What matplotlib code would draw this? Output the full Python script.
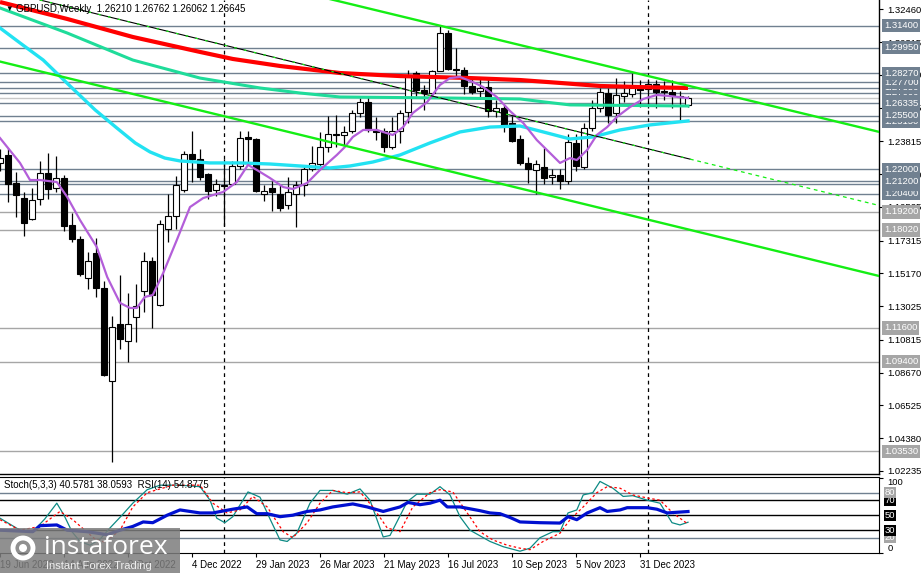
import numpy as np
import matplotlib.pyplot as plt
from matplotlib.patches import Rectangle, Circle
from matplotlib.transforms import blended_transform_factory, IdentityTransform

plt.rcParams.update({
    "font.family": ["Liberation Sans", "DejaVu Sans"],
    "font.size": 7,
})

# weekly GBPUSD candles, week 0 = 19 Jun 2022
opens = [1.2238, 1.2290, 1.2107, 1.2009, 1.1871, 1.2002, 1.2173, 1.2074, 1.2140, 1.1832,
         1.1740, 1.1485, 1.1649, 1.1420, 1.0810, 1.1184, 1.1073, 1.1230, 1.1400, 1.1596,
         1.1308, 1.1806, 1.1891, 1.2061, 1.2297, 1.2264, 1.2166, 1.2061, 1.2088, 1.2101,
         1.2218, 1.2408, 1.2395, 1.2035, 1.2074, 1.2035, 1.1963, 1.2035, 1.2094, 1.2199,
         1.2231, 1.2343, 1.2428, 1.2421, 1.2447, 1.2570, 1.2637, 1.2455, 1.2450, 1.2345,
         1.2450, 1.2575, 1.2830, 1.2720, 1.2700, 1.2840, 1.3090, 1.2855, 1.2850, 1.2745,
         1.2710, 1.2740, 1.2580, 1.2600, 1.2500, 1.2400, 1.2240, 1.2195, 1.2215, 1.2150,
         1.2162, 1.2125, 1.2372, 1.2215, 1.2470, 1.2600, 1.2700, 1.2568, 1.2680, 1.2693,
         1.2732, 1.2725, 1.2758, 1.2706, 1.2706, 1.2680, 1.2621]
highs = [1.2330, 1.2336, 1.2179, 1.2048, 1.2074, 1.2251, 1.2303, 1.2284, 1.2160, 1.1911,
         1.1760, 1.1656, 1.1747, 1.1466, 1.1236, 1.1505, 1.1387, 1.1446, 1.1656, 1.1623,
         1.1865, 1.2035, 1.2153, 1.2316, 1.2447, 1.2330, 1.2172, 1.2133, 1.2264, 1.2251,
         1.2447, 1.2447, 1.2402, 1.2094, 1.2120, 1.2094, 1.2146, 1.2120, 1.2218, 1.2349,
         1.2441, 1.2546, 1.2552, 1.2480, 1.2585, 1.2668, 1.2680, 1.2545, 1.2470, 1.2545,
         1.2585, 1.2850, 1.2845, 1.2750, 1.2850, 1.3144, 1.3110, 1.2997, 1.2870, 1.2800,
         1.2790, 1.2790, 1.2650, 1.2620, 1.2550, 1.2425, 1.2280, 1.2260, 1.2340, 1.2200,
         1.2200, 1.2430, 1.2430, 1.2500, 1.2655, 1.2733, 1.2733, 1.2795, 1.2780, 1.2828,
         1.2785, 1.2790, 1.2785, 1.2775, 1.2785, 1.2710, 1.26762]
lows = [1.2190, 1.1983, 1.1884, 1.1760, 1.1865, 1.1963, 1.2002, 1.2048, 1.1793, 1.1721,
        1.1498, 1.1413, 1.1361, 1.0843, 1.0281, 1.1020, 1.0935, 1.1066, 1.1263, 1.1158,
        1.1302, 1.1721, 1.1806, 1.2048, 1.2113, 1.2127, 1.2002, 1.2022, 1.1826, 1.2094,
        1.2199, 1.2231, 1.2048, 1.1989, 1.1924, 1.1924, 1.1937, 1.1819, 1.2022, 1.2186,
        1.2212, 1.2310, 1.2343, 1.2349, 1.2440, 1.2545, 1.2445, 1.2390, 1.2310, 1.2330,
        1.2370, 1.2500, 1.2680, 1.2590, 1.2680, 1.2840, 1.2850, 1.2810, 1.2690, 1.2690,
        1.2660, 1.2545, 1.2545, 1.2445, 1.2380, 1.2230, 1.2110, 1.2037, 1.2100, 1.2100,
        1.2070, 1.2100, 1.2190, 1.2200, 1.2450, 1.2575, 1.2500, 1.2500, 1.2640, 1.2670,
        1.2610, 1.2600, 1.2600, 1.2650, 1.2600, 1.2522, 1.26062]
closes = [1.2271, 1.2101, 1.2029, 1.1845, 1.1996, 1.2173, 1.2068, 1.2140, 1.1826, 1.1740,
          1.1511, 1.1596, 1.1420, 1.0850, 1.1165, 1.1086, 1.1184, 1.1302, 1.1596, 1.1374,
          1.1839, 1.1891, 1.2094, 1.2297, 1.2264, 1.2146, 1.2055, 1.2100, 1.2094, 1.2218,
          1.2402, 1.2395, 1.2055, 1.2055, 1.2048, 1.1943, 1.2048, 1.2094, 1.2199, 1.2238,
          1.2343, 1.2428, 1.2421, 1.2441, 1.2570, 1.2637, 1.2455, 1.2445, 1.2345, 1.2450,
          1.2570, 1.2820, 1.2720, 1.2700, 1.2840, 1.3090, 1.2855, 1.2850, 1.2745, 1.2705,
          1.2735, 1.2580, 1.2600, 1.2480, 1.2385, 1.2240, 1.2200, 1.2235, 1.2140, 1.2165,
          1.2125, 1.2375, 1.2221, 1.2470, 1.2600, 1.2705, 1.2555, 1.2686, 1.2699, 1.2732,
          1.2719, 1.2758, 1.2706, 1.2712, 1.2680, 1.2676, 1.26645]

# moving averages (week, price)
red_w = [0, 8.4, 16.6, 25, 29.1, 35, 42.5, 50, 58.75, 65, 70, 75, 80, 86]
red_p = [1.3295, 1.3184, 1.3066, 1.2968, 1.2922, 1.2876, 1.2830, 1.2810, 1.2797, 1.2784,
         1.2765, 1.2745, 1.2738, 1.2732]
teal_w = [0, 8.4, 16.6, 25, 32.5, 37.5, 42.5, 56.25, 65, 68.1, 71.25, 86]
teal_p = [1.3256, 1.3092, 1.2915, 1.2797, 1.2732, 1.2699, 1.2673, 1.2666, 1.2660, 1.2640,
          1.2621, 1.2614]
cyan_w = [0, 2.5, 5.4, 8.75, 11.9, 14.6, 16.9, 18.75, 20.6, 22.5, 26.25, 30, 33.75, 37.5,
          41.25, 43.75, 46.6, 50, 53.75, 57.5, 61.25, 65, 67.9, 71.25, 74.1, 77.5, 81.25, 86]
cyan_p = [1.3125, 1.3027, 1.2915, 1.2745, 1.2588, 1.2470, 1.2372, 1.2313, 1.2273, 1.2254,
          1.2241, 1.2241, 1.2234, 1.2221, 1.2208, 1.2221, 1.2247, 1.2293, 1.2372, 1.2444,
          1.2476, 1.2483, 1.2444, 1.2398, 1.2411, 1.2457, 1.2490, 1.2516]
purple_w = [0, 2.5, 3.75, 5, 7.1, 8.4, 10, 12.1, 13.4, 15, 16.25, 17.1, 18.1, 19.1, 20.4,
            22.1, 23.75, 25.4, 27.9, 29.6, 31, 32.1, 33.75, 35.4, 36.6, 38.4, 40, 42.1, 43.1,
            44.1, 45.4, 47.1, 49.1, 50.4, 51.6, 53.4, 55, 56.25, 57.5, 59.1, 60.4, 62.1, 63.75,
            65.4, 67.1, 68.75, 70, 71.25, 72.1, 73.4, 74.6, 75.9, 77.1, 78.75, 80.4, 82.1,
            83.75, 86]
purple_p = [1.2404, 1.2241, 1.2129, 1.2129, 1.2116, 1.2018, 1.1867, 1.1690, 1.1494, 1.1324,
            1.1291, 1.1291, 1.1363, 1.1376, 1.1520, 1.1736, 1.1952, 1.2011, 1.2051, 1.2116,
            1.2228, 1.2195, 1.2142, 1.2083, 1.2070, 1.2110, 1.2195, 1.2293, 1.2345, 1.2411,
            1.2457, 1.2457, 1.2424, 1.2476, 1.2568, 1.2640, 1.2752, 1.2797, 1.2804, 1.2771,
            1.2738, 1.2673, 1.2581, 1.2503, 1.2391, 1.2306, 1.2241, 1.2273, 1.2260, 1.2326,
            1.2424, 1.2476, 1.2542, 1.2607, 1.2660, 1.2686, 1.2679, 1.2666]

# trend lines (week, price) end points
upper_line = ([40, 110], [1.3330, 1.2443])
lower_line = ([0, 110], [1.2905, 1.1499])
thin_line = ([5, 86.25], [1.3308, 1.2266])
thin_ray = ([86.25, 110], [1.2266, 1.1961])

# horizontal levels
dark_levels = [1.3140, 1.2995, 1.2827, 1.2770, 1.2735, 1.2700, 1.26335, 1.2550, 1.2515,
               1.2200, 1.2120, 1.2100, 1.2040]
light_levels = [1.1920, 1.1802, 1.1160, 1.0940, 1.0353]
price_ticks = [1.32460, 1.30315, 1.28170, 1.26025, 1.23815, 1.21670, 1.19525, 1.17315,
               1.15170, 1.13025, 1.10815, 1.08670, 1.06525, 1.04380, 1.02235]

# oscillators (week, value)
stoch_w = [0, 1.25, 2.5, 4.1, 5.6, 7.1, 8, 9, 10, 11.25, 12.5, 13.75, 15.25, 16.6, 18.4, 20,
           22.5, 25, 26.25, 27.1, 28.1, 29.1, 31, 32.5, 33.75, 35, 35.9, 37.1, 38.75, 40,
           41.6, 43.4, 45, 46.25, 47.9, 48.75, 50.9, 52.1, 53.75, 55, 56.25, 57.5, 58.75,
           61.25, 62.9, 65, 66.25, 67.5, 69.1, 70, 71, 72.1, 72.9, 74.1, 75, 76.6, 77.9,
           79.1, 80.9, 82.5, 84, 85, 86]
stoch_v = [46, 38, 30, 28, 45, 66, 50, 28, 15, 10, 18, 33, 50, 66, 84, 90,
           90, 88, 70, 46, 40, 48, 81, 74, 45, 17, 15, 26, 66, 83,
           83, 78, 85, 70, 21, 23, 68, 78, 78, 88, 77, 48, 30,
           15, 8, 2, 6, 20, 28, 28, 53, 57, 77, 80, 95, 86, 75,
           76, 70, 66, 40, 37, 40.58]
signal_w = [0, 2.5, 5, 7.5, 9.1, 10.6, 11.9, 13.1, 15, 16.6, 18.4, 21.6, 25, 26.6, 28.4, 30,
            31.6, 33.4, 35.4, 36.6, 38.4, 40, 41.6, 43.4, 45, 46.6, 48.4, 50, 51.6, 53.75,
            55, 56.6, 58.4, 60, 61.6, 63.4, 65, 66.25, 67.9, 70, 71.25, 72.9, 74.6, 75.9,
            77.5, 79.1, 80.9, 82.5, 84.1, 86]
signal_v = [44, 30, 35, 55, 44, 30, 18, 14, 30, 61, 80, 90, 90, 66, 53, 57,
            75, 61, 28, 20, 40, 66, 83, 80, 81, 61, 33, 28, 61, 80,
            84, 81, 53, 28, 17, 10, 6, 4, 15, 26, 44, 61, 80, 88,
            86, 77, 73, 70, 53, 38.06]
rsi_w = [0, 4.1, 5, 7.1, 8.4, 10.9, 13.4, 15, 16.6, 17.9, 19.1, 20.9, 22.5, 25, 26.6, 29.1,
         30.9, 32.1, 33.4, 35, 36.6, 38.4, 40, 41.6, 44.1, 45.9, 47.9, 50, 51, 52.5, 53.75,
         55, 55.9, 57.5, 60, 61.25, 62.5, 63.75, 65, 67.5, 70, 71, 72.1, 73.4, 75, 75.9,
         77.5, 78.4, 80.9, 82.1, 83.4, 86]
rsi_v = [30, 28, 36, 37, 30, 28, 24, 30, 35, 41, 40, 50, 57, 53, 53, 58,
         61, 52, 52, 48, 50, 55, 57, 61, 65, 61, 55, 61, 67, 64, 66,
         70, 61, 61, 56, 53, 52, 47, 41, 40, 39.5, 48, 44, 53, 60, 55,
         57, 60, 60, 58, 53, 54.88]

date_weeks = [0, 8, 16, 24, 32, 40, 48, 56, 64, 72, 80]
date_labels = ["19 Jun 2022", "14 Aug 2022", "9 Oct 2022", "4 Dec 2022", "29 Jan 2023",
               "26 Mar 2023", "21 May 2023", "16 Jul 2023", "10 Sep 2023", "5 Nov 2023",
               "31 Dec 2023"]
separators = [28, 81]

W, H = 924, 573
fig = plt.figure(figsize=(W / 100, H / 100), dpi=100)
fig.patch.set_facecolor("white")
ax = fig.add_axes([0, 99 / H, 879 / W, 474 / H])
ax2 = fig.add_axes([0, 20 / H, 879 / W, 76 / H])

slate = "#708090"
light = "#a6a6a6"
lab_fs = 6.8

# ---- price panel
ax.set_xlim(0, 109.875)
ax.set_ylim(1.02035, 1.33082)
for p in dark_levels:
    ax.axhline(p, color=slate, lw=1.0, zorder=1)
for p in light_levels:
    ax.axhline(p, color=light, lw=1.0, zorder=1)
ax.axhline(closes[-1], color="#c8c8c8", lw=1.0, zorder=1)

for s in separators:
    for a in (ax, ax2):
        a.axvline(s, color="black", lw=0.9, ls=(0, (3, 3)), zorder=2)

wk = np.arange(len(opens))
o = np.array(opens)
c = np.array(closes)
ax.vlines(wk, lows, highs, color="black", lw=0.9, zorder=3)
ax.bar(wk, np.abs(c - o), bottom=np.minimum(o, c), width=0.7,
       color=np.where(c >= o, "white", "black"), edgecolor="black", lw=0.8, zorder=4)

ax.plot(red_w, red_p, color="#ff0000", lw=3.0, zorder=5, solid_capstyle="butt")
ax.plot(teal_w, teal_p, color="#1fdc9a", lw=2.2, zorder=5)
ax.plot(cyan_w, cyan_p, color="#22e2f2", lw=2.4, zorder=5)
ax.plot(purple_w, purple_p, color="#b35ed9", lw=1.6, zorder=6)

green = "#14ee14"
ax.plot(*upper_line, color=green, lw=1.7, zorder=6)
ax.plot(*lower_line, color=green, lw=1.7, zorder=6)
ax.plot(*thin_line, color="black", lw=0.8, zorder=6)
ax.plot(*thin_line, color=green, lw=0.9, ls=(0, (2, 6)), zorder=6)
ax.plot(*thin_ray, color=green, lw=0.9, ls=(0, (3, 3)), zorder=6)

ax.yaxis.tick_right()
ax.set_yticks(price_ticks)
ax.set_yticklabels([f"{v:.5f}" for v in price_ticks])
ax.tick_params(axis="y", direction="out", length=3, width=0.8, pad=3, labelsize=lab_fs)
ax.set_xticks([])
for side in ("top", "left"):
    ax.spines[side].set_visible(False)
for side in ("right", "bottom"):
    ax.spines[side].set_linewidth(1.0)

tr = blended_transform_factory(ax.transAxes, ax.transData)
levels = [(p, slate) for p in dark_levels] + [(p, light) for p in light_levels]
for p, col in sorted(levels):
    ax.text(1.0055, p, f"{p:.5f}", transform=tr, color="white", fontsize=lab_fs,
            va="center", ha="left", clip_on=False, zorder=10,
            bbox=dict(boxstyle="square,pad=0.22", fc=col, ec="none"))

fig.text(5 / W, 1 - 9 / H, "\u25bc", fontsize=5.5, va="center", ha="left")
fig.text(16 / W, 1 - 9 / H, "GBPUSD,Weekly  1.26210 1.26762 1.26062 1.26645",
         fontsize=7, va="center", ha="left")

# ---- oscillator panel
ax2.set_xlim(0, 109.875)
ax2.set_ylim(-0.4, 100.9)
for lv, col in [(80, slate), (20, slate), (70, "black"), (50, "black"), (30, "black")]:
    ax2.axhline(lv, color=col, lw=1.0, zorder=1)
ax2.plot(stoch_w, stoch_v, color="#0c8a84", lw=0.9, zorder=4)
ax2.plot(signal_w, signal_v, color="#ff0000", lw=0.9, ls=(0, (2, 2)), zorder=4)
ax2.plot(rsi_w, rsi_v, color="#0010d0", lw=2.3, zorder=5)

ax2.yaxis.tick_right()
ax2.set_yticks([0, 100])
ax2.set_yticklabels(["0", "100"])
ax2.tick_params(axis="y", length=3, width=0.8, pad=3, labelsize=lab_fs)
ylabs = ax2.get_yticklabels()
ylabs[0].set_va("bottom")
ylabs[1].set_va("top")
tr2 = blended_transform_factory(ax2.transAxes, ax2.transData)
for lv, col in [(20, light), (30, "black"), (50, "black"), (70, "black"), (80, light)]:
    ax2.text(1.0065, lv, str(lv), transform=tr2, color="white", fontsize=lab_fs,
             va="center", ha="left", clip_on=False, zorder=10,
             bbox=dict(boxstyle="square,pad=0.12", fc=col, ec="none"))
ax2.spines["left"].set_visible(False)
ax2.set_xticks(date_weeks)
ax2.set_xticklabels(date_labels)
ax2.tick_params(axis="x", length=3, width=0.8, pad=2, labelsize=7)
for lab in ax2.get_xticklabels():
    lab.set_ha("left")
ax2.text(4 / 879, 0.9, "Stoch(5,3,3) 40.5781 38.0593  RSI(14) 54.8775",
         transform=ax2.transAxes, fontsize=7, va="center", ha="left", zorder=8)

# ---- watermark
fig.add_artist(Rectangle((0, 0), 180 / W, 45 / H, transform=fig.transFigure,
                         fc="#7d7d7d", ec="none", alpha=0.85, zorder=20))
fig.add_artist(Circle((23, 25), 10, transform=IdentityTransform(), fc="none",
                      ec="white", lw=3.5, zorder=21))
fig.add_artist(Circle((23, 25), 4, transform=IdentityTransform(), fc="white",
                      ec="none", zorder=21))
fig.text(44 / W, 26 / H, "instaforex", fontsize=19, color="white", va="center",
         ha="left", zorder=22, family="Open Sans")
fig.text(46 / W, 7 / H, "Instant Forex Trading", fontsize=8, color="#eeeeee",
         va="center", ha="left", zorder=22)

fig.savefig("out.png", dpi=100)
